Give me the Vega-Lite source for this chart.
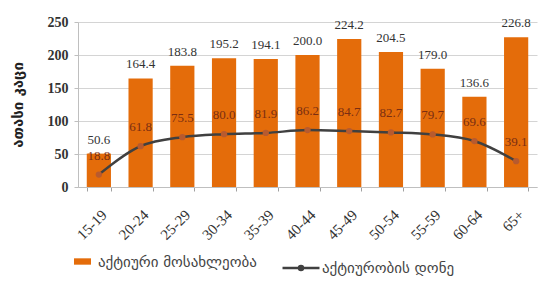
{
  "$schema": "https://vega.github.io/schema/vega-lite/v6.json",
  "width": 459,
  "height": 165,
  "autosize": {"type": "none"},
  "padding": {"left": 78, "top": 22, "right": 1, "bottom": 101},
  "background": "white",
  "config": {
    "view": {"stroke": null},
    "font": "DejaVu Serif",
    "axis": {"labelFont": "Liberation Serif", "titleFont": "DejaVu Sans"},
    "axisY": {
      "grid": true, "gridColor": "#d4d4d4", "gridWidth": 1, "domainColor": "#bfbfbf",
      "ticks": true, "tickColor": "#bfbfbf", "tickSize": 4, "tickCount": 5,
      "labelOverlap": false, "labelFontSize": 14, "labelFontWeight": "bold", "labelColor": "#333333", "labelPadding": 6,
      "titleFontSize": 15, "titleFontWeight": "bold", "titleColor": "#222222", "titlePadding": 22
    }
  },
  "data": {
    "values": [
      {"age": "15-19", "pop": 50.6, "rate": 18.8},
      {"age": "20-24", "pop": 164.4, "rate": 61.8},
      {"age": "25-29", "pop": 183.8, "rate": 75.5},
      {"age": "30-34", "pop": 195.2, "rate": 80.0},
      {"age": "35-39", "pop": 194.1, "rate": 81.9},
      {"age": "40-44", "pop": 200.0, "rate": 86.2},
      {"age": "45-49", "pop": 224.2, "rate": 84.7},
      {"age": "50-54", "pop": 204.5, "rate": 82.7},
      {"age": "55-59", "pop": 179.0, "rate": 79.7},
      {"age": "60-64", "pop": 136.6, "rate": 69.6},
      {"age": "65+", "pop": 226.8, "rate": 39.1}
    ]
  },
  "encoding": {
    "x": {
      "field": "age", "type": "ordinal", "sort": null,
      "scale": {"paddingInner": 0.42, "paddingOuter": 0.21},
      "axis": {
        "title": null, "labelAngle": -45, "labelFontSize": 15, "labelColor": "#333333",
        "domainColor": "#bfbfbf", "ticks": true, "tickBand": "extent", "tickColor": "#a0a0a0", "tickSize": 4,
        "labelPadding": 16, "labelDx": 3
      }
    }
  },
  "layer": [
    {
      "mark": {"type": "bar", "color": "#E46C0A"},
      "encoding": {
        "y": {
          "field": "pop", "type": "quantitative", "title": "ათასი კაცი",
          "scale": {"domain": [0, 250], "nice": false}
        },
        "fill": {
          "datum": "აქტიური მოსახლეობა", "type": "nominal",
          "scale": {"range": ["#E46C0A"]},
          "legend": {
            "title": null, "orient": "none", "legendX": -3, "legendY": 232,
            "symbolType": "M-1.2,-0.45H1.2V0.45H-1.2Z", "symbolSize": 200, "symbolStrokeWidth": 0,
            "labelFont": "DejaVu Sans", "labelFontSize": 15, "labelColor": "#444444", "labelOffset": 8
          }
        }
      }
    },
    {
      "mark": {"type": "text", "dy": -14, "fontSize": 13, "color": "#333333", "font": "Liberation Serif"},
      "encoding": {
        "y": {"field": "pop", "type": "quantitative", "title": "ათასი კაცი"},
        "text": {"field": "pop", "type": "quantitative", "format": ".1f"}
      }
    },
    {
      "mark": {"type": "line", "interpolate": "monotone", "strokeWidth": 2.5},
      "encoding": {
        "y": {"field": "rate", "type": "quantitative", "title": "ათასი კაცი"},
        "stroke": {
          "datum": "აქტიურობის დონე", "type": "nominal",
          "scale": {"range": ["#404040"]},
          "legend": {
            "title": null, "orient": "none", "legendX": 206, "legendY": 229,
            "symbolType": "M-1.2,0H1.2M0.13,0A0.13,0.13,0,1,1,-0.13,0A0.13,0.13,0,1,1,0.13,0",
            "symbolSize": 950, "symbolStrokeWidth": 2.5, "symbolFillColor": "#B85A2E",
            "labelFont": "DejaVu Sans", "labelFontSize": 15, "labelColor": "#444444", "labelOffset": 4
          }
        }
      }
    },
    {
      "mark": {"type": "point", "filled": true, "size": 40, "color": "#B85A2E", "opacity": 1},
      "encoding": {"y": {"field": "rate", "type": "quantitative", "title": "ათასი კაცი"}}
    },
    {
      "mark": {"type": "text", "dy": -19, "fontSize": 13, "color": "#7A2E12", "font": "Liberation Serif"},
      "encoding": {
        "y": {"field": "rate", "type": "quantitative", "title": "ათასი კაცი"},
        "text": {"field": "rate", "type": "quantitative", "format": ".1f"}
      }
    }
  ]
}
